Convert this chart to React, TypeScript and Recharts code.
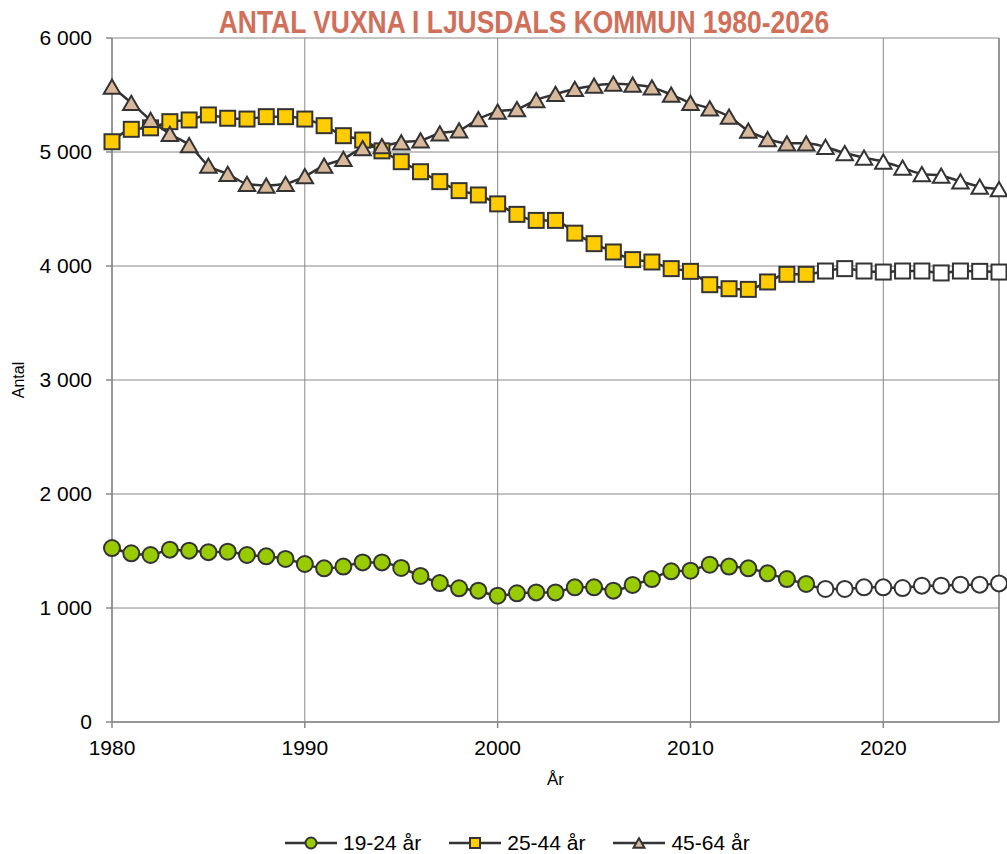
import React from 'react';
import { LineChart, Line, XAxis, YAxis, CartesianGrid, Legend, ReferenceLine, Label } from 'recharts';

const years = [1980, 1981, 1982, 1983, 1984, 1985, 1986, 1987, 1988, 1989, 1990, 1991, 1992, 1993, 1994, 1995, 1996, 1997, 1998, 1999, 2000, 2001, 2002, 2003, 2004, 2005, 2006, 2007, 2008, 2009, 2010, 2011, 2012, 2013, 2014, 2015, 2016, 2017, 2018, 2019, 2020, 2021, 2022, 2023, 2024, 2025, 2026];

const age1924 = [1526, 1480, 1465, 1512, 1503, 1490, 1494, 1465, 1453, 1430, 1386, 1348, 1363, 1400, 1400, 1351, 1281, 1219, 1173, 1152, 1108, 1129, 1137, 1137, 1181, 1181, 1152, 1202, 1254, 1322, 1327, 1380, 1363, 1348, 1304, 1254, 1211, 1167, 1167, 1181, 1181, 1175, 1196, 1196, 1205, 1205, 1216];

const age2544 = [5090, 5199, 5212, 5266, 5281, 5325, 5296, 5289, 5310, 5310, 5289, 5231, 5143, 5105, 5010, 4915, 4827, 4740, 4661, 4623, 4545, 4453, 4400, 4400, 4288, 4196, 4123, 4056, 4035, 3977, 3953, 3836, 3801, 3795, 3860, 3927, 3927, 3956, 3977, 3956, 3947, 3956, 3956, 3939, 3956, 3953, 3947];

const age4564 = [5573, 5432, 5281, 5158, 5061, 4881, 4808, 4721, 4706, 4721, 4788, 4881, 4940, 5033, 5052, 5085, 5102, 5164, 5190, 5289, 5354, 5377, 5456, 5509, 5553, 5582, 5599, 5590, 5567, 5503, 5430, 5383, 5310, 5187, 5114, 5076, 5076, 5044, 4991, 4950, 4915, 4862, 4807, 4792, 4743, 4696, 4675];

const xTicks = [1980, 1990, 2000, 2010, 2020];
const yTicks = [0, 1000, 2000, 3000, 4000, 5000, 6000];
const projectionFrom = 2017;

const title = 'ANTAL VUXNA I LJUSDALS KOMMUN 1980-2026';

const series = [
  { key: 'a1924', name: '19-24 år', fill: '#99CC00', shape: 'circle' },
  { key: 'a2544', name: '25-44 år', fill: '#FFCC00', shape: 'square' },
  { key: 'a4564', name: '45-64 år', fill: '#D8B99C', shape: 'triangle' },
];

const data = years.map((y, i) => ({ year: y, a1924: age1924[i], a2544: age2544[i], a4564: age4564[i] }));

const LINE = '#333333';
const GRID = '#888888';
const FONT = '"Liberation Sans", Arial, sans-serif';

function markerShape(shape: string, cx: number, cy: number, fill: string, s: number, key?: any) {
  if (shape === 'circle') {
    return <circle key={key} cx={cx} cy={cy} r={s} fill={fill} stroke={LINE} strokeWidth={2} />;
  }
  if (shape === 'square') {
    return <rect key={key} x={cx - s} y={cy - s} width={2 * s} height={2 * s} fill={fill} stroke={LINE} strokeWidth={2} />;
  }
  const h = s * 0.95;
  return (
    <polygon
      key={key}
      points={`${cx},${cy - h} ${cx + s * 1.1},${cy + h} ${cx - s * 1.1},${cy + h}`}
      fill={fill}
      stroke={LINE}
      strokeWidth={2}
      strokeLinejoin="miter"
    />
  );
}

function makeDot(shape: string, fill: string) {
  return (props: any) => {
    const { cx, cy, payload, index } = props;
    if (cx == null || cy == null) return <g key={`d${index}`} />;
    const f = payload && payload.year >= projectionFrom ? '#FFFFFF' : fill;
    const size = shape === 'circle' ? 8 : 7.5;
    return markerShape(shape, cx, cy, f, size, `d${index}`);
  };
}

const fmt = (v: number) => String(v).replace(/\B(?=(\d{3})+(?!\d))/g, ' ');

const LegendContent = () => (
  <div style={{ display: 'flex', alignItems: 'center', height: 20, paddingLeft: 285, fontFamily: FONT, fontSize: 21, color: '#000' }}>
    {series.map((s) => (
      <div key={s.key} style={{ display: 'flex', alignItems: 'center', marginRight: 28 }}>
        <svg width={52} height={20} style={{ display: 'block' }}>
          <line x1={0} y1={10} x2={52} y2={10} stroke={LINE} strokeWidth={2.5} />
          {markerShape(s.shape, 26, 10, s.fill, s.shape === 'circle' ? 5.5 : 5)}
        </svg>
        <span style={{ marginLeft: 6, lineHeight: '20px' }}>{s.name}</span>
      </div>
    ))}
  </div>
);

export default function App() {
  return (
    <div style={{ position: 'absolute', left: 0, top: 0, width: 1007, height: 854, background: '#fff' }}>
      <div
        style={{
          position: 'absolute',
          left: 0,
          top: 4,
          width: 1048,
          textAlign: 'center',
          fontFamily: FONT,
          fontWeight: 'bold',
          fontSize: 32,
          color: '#D0705A',
          lineHeight: '36px',
          whiteSpace: 'nowrap',
          transform: 'scaleX(0.826)',
          transformOrigin: '524px 0px',
          zIndex: 2,
        }}
      >
        {title}
      </div>
      <LineChart width={1007} height={854} data={data} margin={{ top: 38, right: 8, left: 0, bottom: 1 }}>
        <CartesianGrid stroke={GRID} strokeWidth={1} />
        <XAxis
          dataKey="year"
          type="number"
          domain={[1980, 2026]}
          ticks={xTicks}
          height={111}
          tickSize={6}
          tickMargin={12}
          stroke={GRID}
          strokeWidth={1.5}
          tick={{ fontFamily: FONT, fontSize: 21, fill: '#000' }}
          interval={0}
        >
          <Label value="År" position="center" dy={1} style={{ fontFamily: FONT, fontSize: 17, fill: '#000' }} />
        </XAxis>
        <YAxis
          type="number"
          domain={[0, 6000]}
          ticks={yTicks}
          width={112}
          tickSize={6}
          tickMargin={14}
          stroke={GRID}
          strokeWidth={1.5}
          tickFormatter={fmt}
          tick={{ fontFamily: FONT, fontSize: 21, fill: '#000' }}
          interval={0}
        >
          <Label value="Antal" position="center" angle={-90} dx={-38} style={{ fontFamily: FONT, fontSize: 16, fill: '#000' }} />
        </YAxis>
        <ReferenceLine x={2026} stroke={GRID} strokeWidth={1.5} />
        {series.map((s) => (
          <Line
            key={s.key}
            dataKey={s.key}
            name={s.name}
            type="monotone"
            stroke={LINE}
            strokeWidth={2.5}
            dot={makeDot(s.shape, s.fill)}
            activeDot={false}
            isAnimationActive={false}
          />
        ))}
        <Legend verticalAlign="bottom" content={<LegendContent />} wrapperStyle={{ left: 0, width: 1007, height: 20 }} />
      </LineChart>
    </div>
  );
}
